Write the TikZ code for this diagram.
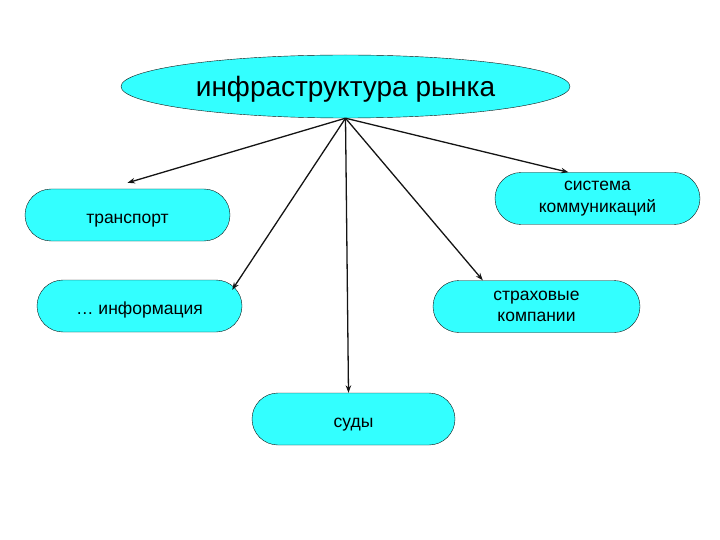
\documentclass[tikz,border=0pt]{standalone}
\usepackage{fontspec}
\setmainfont{Liberation Sans}
\usetikzlibrary{arrows.meta,shapes.geometric}
\definecolor{Aqua}{RGB}{51,255,255}
\definecolor{Ink}{RGB}{20,20,20}

\begin{document}
\begin{tikzpicture}[x=1pt,y=-1pt,
  mainbox/.style={ellipse,draw=Ink,fill=Aqua,minimum width=449pt,minimum height=63pt,inner sep=0pt,text height=27pt,text depth=6pt,font=\fontsize{28}{32}\selectfont},
  partbox/.style={rounded corners=26pt,draw=Ink,fill=Aqua,minimum width=205pt,minimum height=52pt,inner sep=0pt,align=center,font=\fontsize{17.5}{21.5}\selectfont,execute at begin node={\rule{0pt}{20pt}}},
  link/.style={-{Stealth[length=7.5pt,width=5.5pt]},line width=1.3pt,Ink}]
\useasboundingbox (0,0) rectangle (720,540);
\node[mainbox] (market) at (345.5,86.5) {инфраструктура рынка};
\node[partbox] (transport) at (127.5,215) {транспорт};
\node[partbox] (comm) at (597.5,198.5) {система\\коммуникаций};
\node[partbox] (info) at (139.5,306) {… информация};
\node[partbox,minimum width=207pt] (insur) at (536.5,306.5) {страховые\\компании};
\node[partbox,minimum width=203pt] (courts) at (353.5,419) {суды};
\draw[link] (market.south) -- ([yshift=6pt]transport.north);
\draw[link] (market.south) -- ([xshift=-29pt]comm.north);
\draw[link] (market.south) -- ([xshift=-10pt,yshift=-10pt]info.north east);
\draw[link] (market.south) -- ([xshift=50pt]insur.north west);
\draw[link] (market.south) -- ([xshift=-5pt]courts.north);
\end{tikzpicture}
\end{document}
